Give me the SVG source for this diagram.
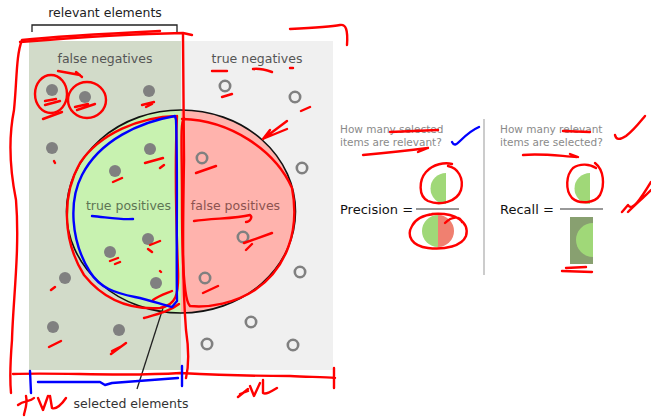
<svg xmlns="http://www.w3.org/2000/svg" width="651" height="417" viewBox="0 0 651 417">
<style>
text{font-family:"DejaVu Sans","Liberation Sans",sans-serif}
.lbl{font-size:12.5px;fill:#555;text-anchor:middle}
.q{font-size:10.5px;fill:#8a8a8a}
.eq{font-size:13px;fill:#111}
.dot{fill:#808080}
.ring{fill:none;stroke:#808080;stroke-width:2.6}
.r{fill:none;stroke:#ff0000;stroke-width:2.4;stroke-linecap:round;stroke-linejoin:round}
.b{fill:none;stroke:#0000ff;stroke-width:2.4;stroke-linecap:round;stroke-linejoin:round}
</style>
<rect width="651" height="417" fill="#fff"/>
<g id="relevant-panel"><rect x="29" y="41" width="152" height="329" fill="#d2dbc9"/></g>
<g id="irrelevant-panel"><rect x="181" y="41" width="152" height="329" fill="#f0f0f0"/></g>
<g id="selected-circle">
<path d="M181,110 A114.5,101.5 0 0 0 181,313 Z" fill="#c8f2b0"/>
<path d="M181,110 A114.5,101.5 0 0 1 181,313 Z" fill="#ffb3ad"/>
<ellipse cx="181" cy="211.5" rx="114.5" ry="101.5" fill="none" stroke="#111" stroke-width="1.6"/>
</g>
<g id="dots">
<circle class="dot" cx="52" cy="90" r="6"/><circle class="dot" cx="85" cy="97" r="6"/><circle class="dot" cx="149" cy="91" r="6"/>
<circle class="dot" cx="52" cy="148" r="6"/><circle class="dot" cx="150" cy="149" r="6"/><circle class="dot" cx="115" cy="171" r="6"/>
<circle class="dot" cx="148" cy="239" r="6"/><circle class="dot" cx="110" cy="252" r="6"/><circle class="dot" cx="65" cy="278" r="6"/>
<circle class="dot" cx="156" cy="283" r="6"/><circle class="dot" cx="53" cy="327" r="6"/><circle class="dot" cx="119" cy="330" r="6"/>
<circle class="ring" cx="225" cy="86" r="5.2"/><circle class="ring" cx="295" cy="97" r="5.2"/><circle class="ring" cx="202" cy="158" r="5.2"/>
<circle class="ring" cx="302" cy="168" r="5.2"/><circle class="ring" cx="243" cy="237" r="5.2"/><circle class="ring" cx="205" cy="278" r="5.2"/>
<circle class="ring" cx="300" cy="272" r="5.2"/><circle class="ring" cx="251" cy="322" r="5.2"/><circle class="ring" cx="207" cy="344" r="5.2"/>
<circle class="ring" cx="293" cy="345" r="5.2"/>
</g>
<g id="labels">
<text x="105" y="17" class="lbl" style="fill:#222">relevant elements</text>
<text x="105" y="63" class="lbl">false negatives</text>
<text x="257" y="63" class="lbl">true negatives</text>
<text x="128.5" y="210" class="lbl" style="fill:#5e7554">true positives</text>
<text x="235.5" y="210" class="lbl" style="fill:#8c5350">false positives</text>
<text x="131" y="408" class="lbl" style="fill:#333">selected elements</text>
</g>
<g id="connectors" fill="none" stroke="#222" stroke-width="1.3">
<path d="M32,32 V25 H177 V32"/>
<path d="M137,389 L163,308"/>
</g>
<g id="precision">
<text x="340" y="133" class="q">How many selected</text>
<text x="340" y="146" class="q">items are relevant?</text>
<text x="340" y="214" class="eq">Precision =</text>
<line x1="416" y1="209" x2="459" y2="209" stroke="#777" stroke-width="1.5"/>
<path d="M446,173 A15.5,15.5 0 0 0 446,204 Z" fill="#a0d878"/>
<path d="M438,215 A16,16 0 0 0 438,247 Z" fill="#a0d878"/>
<path d="M438,215 A16,16 0 0 1 438,247 Z" fill="#f08070"/>
</g>
<line id="divider" x1="484" y1="119" x2="484" y2="275" stroke="#bbb" stroke-width="1.5"/>
<g id="recall">
<text x="500" y="133" class="q">How many relevant</text>
<text x="500" y="146" class="q">items are selected?</text>
<text x="500" y="214" class="eq">Recall =</text>
<line x1="560" y1="209" x2="603" y2="209" stroke="#777" stroke-width="1.5"/>
<path d="M590,173 A15.5,15.5 0 0 0 590,204 Z" fill="#a0d878"/>
<rect x="570" y="217" width="23" height="47" fill="#88a070"/>
<path d="M593,223 A17,17 0 0 0 593,257 Z" fill="#a0d878"/>
</g>
<g id="annotations">
<path class="r" d="M160,31 C120,33 60,36 22,40 C16,55 17,80 14,110 C8,140 10,170 16,200 C20,250 13,300 12,340 C10,365 10,382 11,393"/>
<path class="r" d="M20,42 C70,38 130,34 183,33 L192,35"/>
<path class="r" d="M183,34 C183,80 184,120 184,160 C183,220 182,280 186,330 C189,350 189,365 186,378"/>
<path class="r" d="M177,116 C140,117 100,133 80,163 C62,195 62,240 84,275 C104,300 130,310 160,308 C176,305 179,295 178,270 C176,220 175,160 177,116"/>
<path class="r" d="M144,318 C158,314 170,311 179,304"/>
<path class="r" d="M153,300 C160,295 168,293 172,291"/>
<path class="r" d="M182,119 C230,120 275,150 292,188 C300,230 287,268 255,290 C235,303 210,308 190,306 C183,300 182,250 182,200 C182,150 180,122 184,118"/>
<path class="r" d="M194,221 C212,218 235,219 250,215 C253,217 250,222 246,222"/>
<path class="r" d="M196,173 L216,166 M244,243 L272,233 M246,250 L252,244 M203,293 L218,286"/>
<path class="r" d="M263,139 L287,121 M265,138 L287,129 M263,139 L270,130"/>
<path class="r" d="M290,29 C310,28 330,27 340,25 C346,24 348,30 347,45"/>
<ellipse class="r" cx="51" cy="94" rx="16" ry="19"/>
<ellipse class="r" cx="87" cy="100" rx="19" ry="18"/>
<path class="r" d="M58,71 L80,75 M76,72 L82,77"/>
<path class="r" d="M45,101 L56,99 M45,105 L60,101 M43,119 L62,112 M77,110 L95,104 M75,107 L88,104 M142,105 L154,102 M146,107 L152,104"/>
<path class="r" d="M54,161 L55,163 M145,163 L163,158 M160,168 L164,165 M113,182 L122,178 M150,245 L160,241 M148,249 L152,252 M110,261 L118,258 M115,264 L120,262 M160,271 L161,272 M51,290 L55,287 M49,347 L61,341 M111,354 L126,343 M112,351 L122,346"/>
<path class="r" d="M212,71 L227,71 M253,69 C260,68 266,70 272,72 M290,68 L293,68 M222,97 L232,94 M301,111 L310,107"/>
<path class="b" d="M175,116 C140,122 100,140 82,175 C69,200 70,240 90,272 C100,288 115,293 135,297 C150,300 160,304 172,307 L177,301 C176,250 178,170 176,120 Z"/>
<path class="b" d="M92,216 C105,217 120,220 133,219"/>
<path class="r" d="M13,374 C60,372 120,377 180,373 C220,375 260,376 290,376 C310,377 325,377 335,378 M334,368 L334,388"/>
<path class="b" d="M38,382 L100,382 L105,385 L112,383 L178,378"/>
<path class="b" d="M30,371 L31,393" stroke-width="4.5"/>
<path class="b" d="M182,366 L182,386" stroke-width="4.5"/>
<path class="r" d="M18,405 C24,400 30,402 34,398 M26,396 C28,405 24,412 24,415 M38,398 L43,410 L48,396 M50,396 L52,408 C56,410 62,404 66,398"/>
<path class="r" d="M238,397 L248,389 M240,394 L248,391 M250,386 L254,396 L260,383 M263,380 L263,393 C266,395 272,391 277,388"/>
<path class="r" d="M390,132 L438,130"/>
<path class="r" d="M363,155 C385,153 405,151 428,148 M418,152 L428,148"/>
<path class="b" d="M452,142 C454,146 456,145 460,141 C466,135 472,130 479,127"/>
<path class="r" d="M448,166 C458,168 464,178 461,190 C457,202 440,206 428,201 C418,196 419,180 426,172 C433,164 445,162 452,164"/>
<path class="r" d="M445,223 C452,216 460,216 462,222 M432,214 C455,212 470,222 466,236 C462,246 445,250 428,248 C412,246 406,236 412,226 C416,218 424,215 434,214"/>
<path class="r" d="M563,131 L590,132"/>
<path class="r" d="M523,155 C540,153 560,156 577,157 M570,154 L578,157"/>
<path class="r" d="M615,135 C616,140 620,140 626,136 C634,130 640,122 645,116"/>
<path class="r" d="M595,163 C604,170 605,185 600,195 C595,203 580,205 572,198 C565,190 566,175 573,168 C580,163 590,164 596,168"/>
<path class="r" d="M622,212 L628,205 C632,212 640,200 651,182 M628,212 C635,205 643,198 651,190"/>
<path class="r" d="M562,271 L592,272 M566,268 L586,267"/>
</g>
</svg>
